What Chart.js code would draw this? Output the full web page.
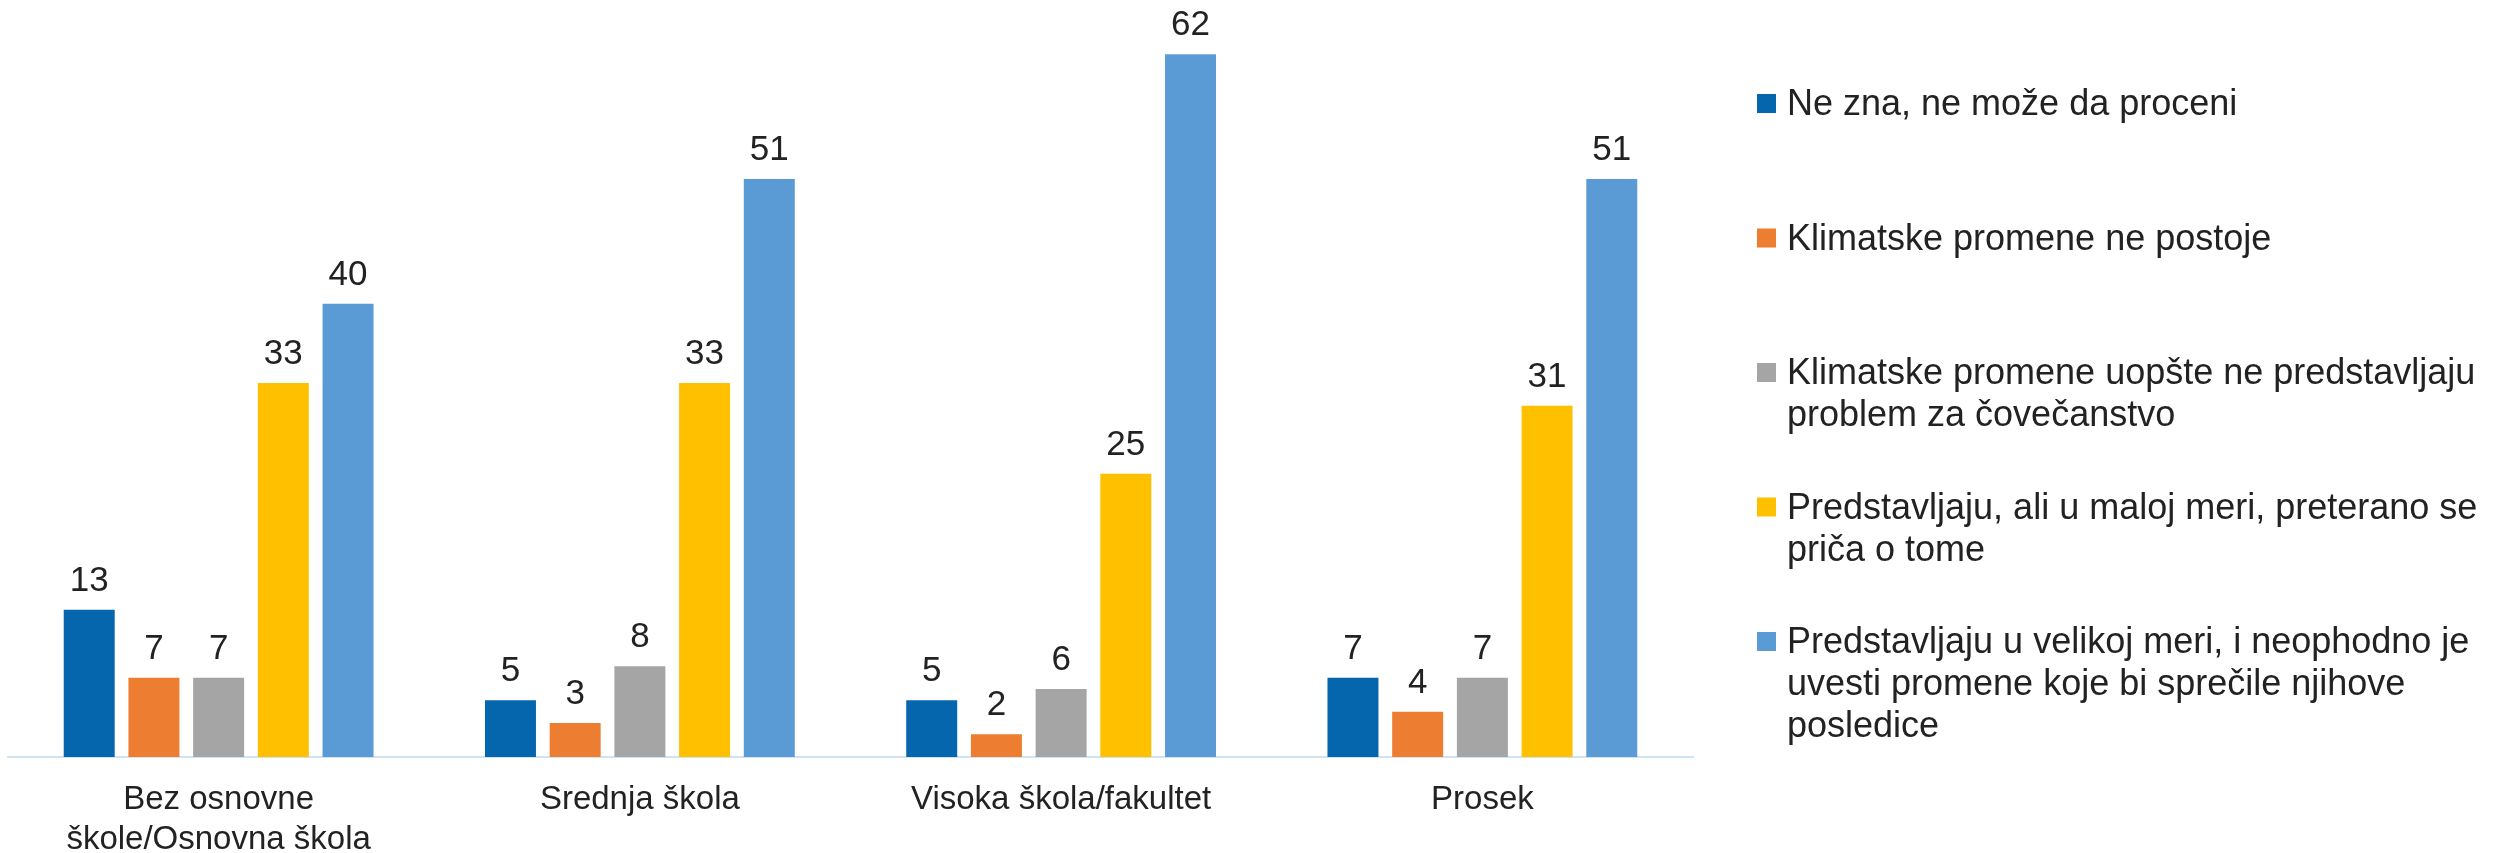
<!DOCTYPE html>
<html lang="sr">
<head>
    <meta charset="UTF-8">
    <title>Klimatske promene prema obrazovanju</title>
    <script src="https://cdn.jsdelivr.net/npm/chart.js"></script>
    <style>
        body { margin: 0; background: #fff; }
        .chart-box { width: 2504px; height: 853px; }
    </style>
</head>
<body>
    <div class="chart-box"><canvas id="eduChart"></canvas></div>
    <script>
    // kategorije (obrazovanje)
    const categories = [['Bez osnovne', 'škole/Osnovna škola'], 'Srednja škola', 'Visoka škola/fakultet', 'Prosek'];

    // nazivi serija
    const seriesNames = [
      'Ne zna, ne može da proceni',
      'Klimatske promene ne postoje',
      'Klimatske promene uopšte ne predstavljaju problem za čovečanstvo',
      'Predstavljaju, ali u maloj meri, preterano se priča o tome',
      'Predstavljaju u velikoj meri, i neophodno je uvesti promene koje bi sprečile njihove posledice'
    ];

    // vrednosti (%)
    const neZna = [13, 5, 5, 7];
    const nePostoje = [7, 3, 2, 4];
    const nisuProblem = [7, 8, 6, 7];
    const malojMeri = [33, 33, 25, 31];
    const velikojMeri = [40, 51, 62, 51];

    const barColors = ['#0566AE', '#ED7D31', '#A5A5A5', '#FFC000', '#5B9BD5'];
    const textColor = '#222222';
    const fontFamily = '"Liberation Sans", Arial, sans-serif';

    Chart.defaults.font.family = fontFamily;

    // brojevi iznad stubica
    const valueLabels = {
      id: 'valueLabels',
      afterDatasetsDraw(chart) {
        const ctx = chart.ctx;
        ctx.save();
        ctx.font = '35px ' + fontFamily;
        ctx.fillStyle = textColor;
        ctx.textAlign = 'center';
        ctx.textBaseline = 'alphabetic';
        chart.data.datasets.forEach((ds, i) => {
          chart.getDatasetMeta(i).data.forEach((bar, j) => {
            ctx.fillText(ds.data[j], bar.x, bar.y - 19);
          });
        });
        ctx.restore();
      }
    };

    function wrapText(ctx, text, maxWidth) {
      const words = text.split(' ');
      const lines = [];
      let line = '';
      words.forEach(w => {
        const test = line ? line + ' ' + w : w;
        if (line && ctx.measureText(test).width > maxWidth) {
          lines.push(line);
          line = w;
        } else {
          line = test;
        }
      });
      if (line) lines.push(line);
      return lines;
    }

    // legenda desno, sa prelomom teksta
    const sideLegend = {
      id: 'sideLegend',
      afterDraw(chart) {
        const ctx = chart.ctx;
        const x0 = chart.chartArea.right + 64;
        const y0 = chart.chartArea.top + 106;
        ctx.save();
        ctx.font = '36px ' + fontFamily;
        ctx.textAlign = 'left';
        ctx.textBaseline = 'alphabetic';
        chart.data.datasets.forEach((ds, i) => {
          const base = y0 + i * 134.5;
          ctx.fillStyle = ds.backgroundColor;
          ctx.fillRect(x0, base - 21, 19, 19);
          ctx.fillStyle = textColor;
          const lines = wrapText(ctx, ds.label, chart.width - x0 - 36);
          lines.forEach((line, j) => ctx.fillText(line, x0 + 30, base + j * 42));
        });
        ctx.restore();
      }
    };

    const seriesValues = [neZna, nePostoje, nisuProblem, malojMeri, velikojMeri];

    const ctx = document.getElementById('eduChart').getContext('2d');
    const chart = new Chart(ctx, {
      type: 'bar',
      data: {
        labels: categories,
        datasets: seriesValues.map((vals, i) => ({
          label: seriesNames[i],
          data: vals,
          backgroundColor: barColors[i],
          barPercentage: 0.788,
          categoryPercentage: 0.768
        }))
      },
      options: {
        responsive: true,
        maintainAspectRatio: false,
        animation: false,
        layout: { padding: { top: 9, right: 811, left: 8, bottom: 0 } },
        plugins: {
          legend: { display: false },
          tooltip: { enabled: false }
        },
        scales: {
          x: {
            grid: { display: false, drawTicks: false },
            border: { display: true, color: '#CFE3F5', width: 2 },
            ticks: {
              color: textColor,
              font: { size: 33, lineHeight: 1.212 },
              padding: 23,
              maxRotation: 0,
              autoSkip: false
            },
            afterFit(scale) { scale.height = 96; }
          },
          y: {
            display: false,
            min: 0,
            max: 66
          }
        }
      },
      plugins: [valueLabels, sideLegend]
    });
    </script>
</body>
</html>
